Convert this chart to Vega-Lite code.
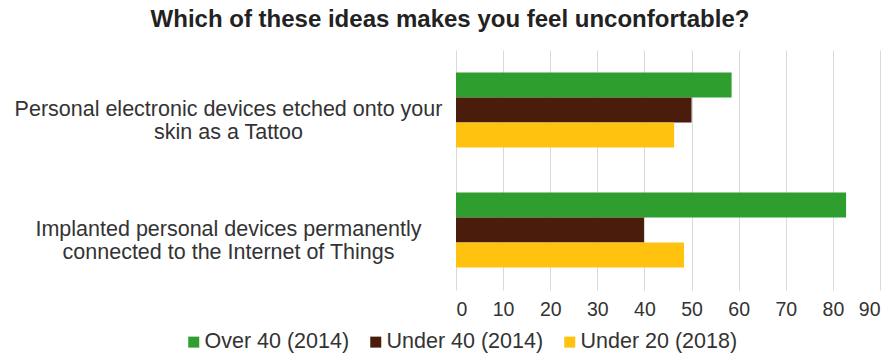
{
  "$schema": "https://vega.github.io/schema/vega-lite/v6.json",
  "width": 424,
  "height": 240,
  "autosize": {"type": "none"},
  "padding": {"left": 456, "top": 50, "right": 14, "bottom": 66},
  "background": "white",
  "title": {
    "text": "Which of these ideas makes you feel unconfortable?",
    "font": "Liberation Sans",
    "fontSize": 24,
    "fontWeight": "bold",
    "color": "#222222",
    "anchor": "middle",
    "baseline": "alphabetic",
    "offset": 22,
    "dx": -218,
    "dy": 23
  },
  "data": {
    "values": [
      {"idea": "Personal electronic devices etched onto your|skin as a Tattoo", "group": "Over 40 (2014)", "value": 58.5},
      {"idea": "Personal electronic devices etched onto your|skin as a Tattoo", "group": "Under 40 (2014)", "value": 50.0},
      {"idea": "Personal electronic devices etched onto your|skin as a Tattoo", "group": "Under 20 (2018)", "value": 46.3},
      {"idea": "Implanted personal devices permanently|connected to the Internet of Things", "group": "Over 40 (2014)", "value": 82.8},
      {"idea": "Implanted personal devices permanently|connected to the Internet of Things", "group": "Under 40 (2014)", "value": 39.9},
      {"idea": "Implanted personal devices permanently|connected to the Internet of Things", "group": "Under 20 (2018)", "value": 48.4}
    ]
  },
  "mark": {"type": "bar"},
  "encoding": {
    "y": {
      "field": "idea",
      "type": "nominal",
      "sort": null,
      "scale": {"paddingInner": 0.375, "paddingOuter": 0.1875},
      "axis": {
        "title": null,
        "domain": false,
        "ticks": false,
        "labelAlign": "center",
        "labelBaseline": "middle",
        "labelPadding": 228,
        "labelFont": "Liberation Sans",
        "labelFontSize": 21.5,
        "labelColor": "#333333",
        "labelLineHeight": 23,
        "labelLimit": 600,
        "labelExpr": "split(datum.value, '|')"
      }
    },
    "yOffset": {
      "field": "group",
      "type": "nominal",
      "sort": ["Over 40 (2014)", "Under 40 (2014)", "Under 20 (2018)"]
    },
    "x": {
      "field": "value",
      "type": "quantitative",
      "scale": {"domain": [0, 90], "nice": false},
      "axis": {
        "title": null,
        "values": [0, 10, 20, 30, 40, 50, 60, 70, 80, 90],
        "domain": false,
        "ticks": false,
        "grid": true,
        "gridColor": "#d9d9d9",
        "gridWidth": 1,
        "labelPadding": 10,
        "labelFont": "Liberation Sans",
        "labelFontSize": 19.5,
        "labelColor": "#333333"
      }
    },
    "color": {
      "field": "group",
      "type": "nominal",
      "sort": ["Over 40 (2014)", "Under 40 (2014)", "Under 20 (2018)"],
      "scale": {
        "domain": ["Over 40 (2014)", "Under 40 (2014)", "Under 20 (2018)"],
        "range": ["#2e9e2e", "#4a1c0b", "#ffc20e"]
      },
      "legend": {
        "title": null,
        "orient": "none",
        "direction": "horizontal",
        "legendX": -273,
        "legendY": 281,
        "symbolType": "square",
        "symbolSize": 121,
        "symbolStrokeWidth": 0,
        "labelFont": "Liberation Sans",
        "labelFontSize": 21.5,
        "labelColor": "#333333",
        "labelOffset": 0,
        "columnPadding": 15,
        "labelLimit": 300
      }
    }
  },
  "config": {
    "view": {"stroke": null}
  }
}
